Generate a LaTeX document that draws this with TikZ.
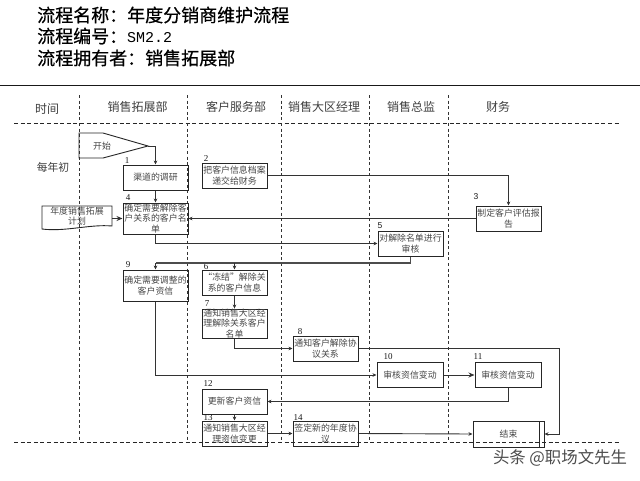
\documentclass[tikz,border=0pt]{standalone}
\usepackage{fontspec}
\setmainfont{Noto Sans CJK SC}
\newfontfamily\numfont{Liberation Serif}
\newfontfamily\numsans{Liberation Sans}
\newfontfamily\titlemono{Liberation Mono}
\newfontfamily\titlefont[FakeBold=0.5]{Noto Sans CJK SC}
\newcommand{\fwcolon}{\char"FF1A\relax}
\usetikzlibrary{arrows.meta}
\tikzset{
  lane/.style={line width=1pt,black!80,dash pattern=on 3pt off 2.6pt},
  hdash/.style={line width=0.8pt,black!85,dash pattern=on 4pt off 2.6pt},
  proc/.style={draw=black!85,line width=1pt,inner sep=0pt,minimum width=65pt,minimum height=25pt,align=center,
    text=black!72,font=\fontsize{8.9}{10.4}\selectfont},
  plain/.style={inner sep=0pt,align=center,text=black!72,font=\fontsize{8.9}{10.4}\selectfont},
  head/.style={inner sep=0pt,text=black!75,font=\fontsize{12}{14}\selectfont},
  tag/.style={inner sep=0pt,font=\fontsize{9}{10}\numfont,text=black!90},
  tagsans/.style={inner sep=0pt,font=\fontsize{8.5}{10}\numsans,text=black!90},
  title/.style={inner sep=0pt,anchor=west,font=\fontsize{18}{20}\titlefont,text=black},
  flow/.style={draw=black!80,line width=0.9pt,-{Stealth[length=4pt,width=3.6pt]}},
  joinline/.style={draw=black!70,line width=1.1pt}
}
\begin{document}
\begin{tikzpicture}[x=1pt,y=-1pt]
\useasboundingbox (0,0) rectangle (640,480);
\fill[white] (0,0) rectangle (640,480);
% titles
\node[title] (t1) at (37,15) {流程名称\fwcolon 年度分销商维护流程};
\node[title] (t2) at (37,36) {流程编号\fwcolon{\fontsize{15}{20}\titlemono SM2.2}};
\node[title] (t3) at (37,58) {流程拥有者\fwcolon 销售拓展部};
% frame lines
\draw[line width=1pt,black!90] (0,85) -- (640,85);
\draw[hdash] (14,123) -- (621,123);
\draw[hdash] (14,442.5) -- (621,442.5);
\foreach \lx in {79,187,281,369,448}{\draw[lane] (\lx,95) -- (\lx,442);}
% headers
\node[head] (h0) at (47,109) {时间};
\node[head] (h1) at (137.5,107) {销售拓展部};
\node[head] (h2) at (236,107) {客户服务部};
\node[head] (h3) at (324,107) {销售大区经理};
\node[head] (h4) at (411,107) {销售总监};
\node[head] (h5) at (498,107) {财务};
\node[inner sep=0pt,text=black!75,font=\fontsize{10.8}{13}\selectfont] (m0) at (53,167) {每年初};
% start
\node[plain] (st) at (102,146) {开始};
\coordinate (tip) at (148,146);
\draw[line width=0.9pt,black!85] (79,133) -- (103,133) -- (tip) -- (103,158) -- (79,158) -- cycle;
% input document
\node[plain,minimum width=70pt,minimum height=24pt] (doc) at (77,216) {年度销售拓展\\计划};
\draw[line width=0.9pt,black!85] (42,229) -- (42,206) -- (112,206) -- (112,226)
  .. controls (90,224) and (65,232) .. (42,229) -- cycle;
% boxes
\node[proc] (b1) at (155.5,177.5) {渠道的调研};
\node[proc] (b2) at (234.5,175.5) {把客户信息档案\\递交给财务};
\node[proc,minimum height=31pt] (b4) at (155.5,218.5) {确定需要解除客\\户关系的客户名\\单};
\node[proc] (b3) at (508.5,218.5) {制定客户评估报\\告};
\node[proc] (b5) at (410.5,243.5) {对解除名单进行\\审核};
\node[proc,minimum height=31pt] (b9) at (155.5,285.5) {确定需要调整的\\客户资信};
\node[proc] (b6) at (234.5,282.5) {“冻结”解除关\\系的客户信息};
\node[proc] (b7) at (234.5,323.5) {通知销售大区经\\理解除关系客户\\名单};
\node[proc] (b8) at (325.5,348.5) {通知客户解除协\\议关系};
\node[proc,minimum width=66pt] (b10) at (410,375) {审核资信变动};
\node[proc,minimum width=66pt] (b11) at (508,375) {审核资信变动};
\node[proc] (b12) at (234.5,401.5) {更新客户资信};
\node[proc] (b13) at (234.5,433.5) {通知销售大区经\\理资信变更};
\node[proc] (b14) at (325.5,433.5) {签定新的年度协\\议};
\node[proc,minimum width=71pt,minimum height=26pt] (e) at (508.5,434) {结束};
\draw[line width=1pt,black!85] (539.5,421) -- (539.5,447);
% numbers
\node[tag] (n1) at (127,161) {1};
\node[tag] (n2) at (206,159) {2};
\node[tagsans] (n3) at (476,197) {3};
\node[tag] (n4) at (128,198) {4};
\node[tagsans] (n5) at (380,226) {5};
\node[tag] (n6) at (206,267) {6};
\node[tag] (n7) at (207,304) {7};
\node[tag] (n8) at (300,332) {8};
\node[tag] (n9) at (128,265) {9};
\node[tag] (n10) at (388,357) {10};
\node[tag] (n11) at (478,357) {11};
\node[tag] (n12) at (208,384) {12};
\node[tag] (n13) at (208,418) {13};
\node[tag] (n14) at (298,418) {14};
% connectors
\coordinate (rb) at (155.5,263);
\coordinate (rr) at (559,348.5);
\draw[flow] (tip) -| (b1.north);
\draw[flow] (b1.south) -- (b4.north);
\draw[flow] (b2.east) -| (b3.north);
\draw[flow] (b3.west) -- (b4.east);
\draw[flow,-{Stealth[length=6pt,width=5pt]}] (doc.east |- b4.west) -- (b4.west);
\draw[flow] (b4.south) |- (b5.west);
\draw[joinline] (b5.south) |- (rb);
\draw[flow] (rb) -- (b9.north);
\draw[flow] (b6.north |- rb) -- (b6.north);
\draw[flow] (b6.south) -- (b7.north);
\draw[flow] (b7.south) |- (b8.west);
\draw[flow] (b8.east) -- (rr) |- (e.east);
\draw[flow] (b9.south) |- (b10.west);
\draw[flow,-{Stealth[length=6pt,width=5pt]}] (b10.east) -- (b11.west);
\draw[flow] (b11.south) |- (b12.east);
\draw[flow] (b12.south) -- (b13.north);
\draw[flow] (b13.east) -- (b14.west);
\draw[flow] (b14.east) -- (e.west);
% watermark
\fill[white] (488,449) rectangle (632,470);
\node[inner sep=0pt,text=black!70,font=\fontsize{16.4}{18}\selectfont] (wm) at (560,458) {头条 @职场文先生};
\end{tikzpicture}
\end{document}
